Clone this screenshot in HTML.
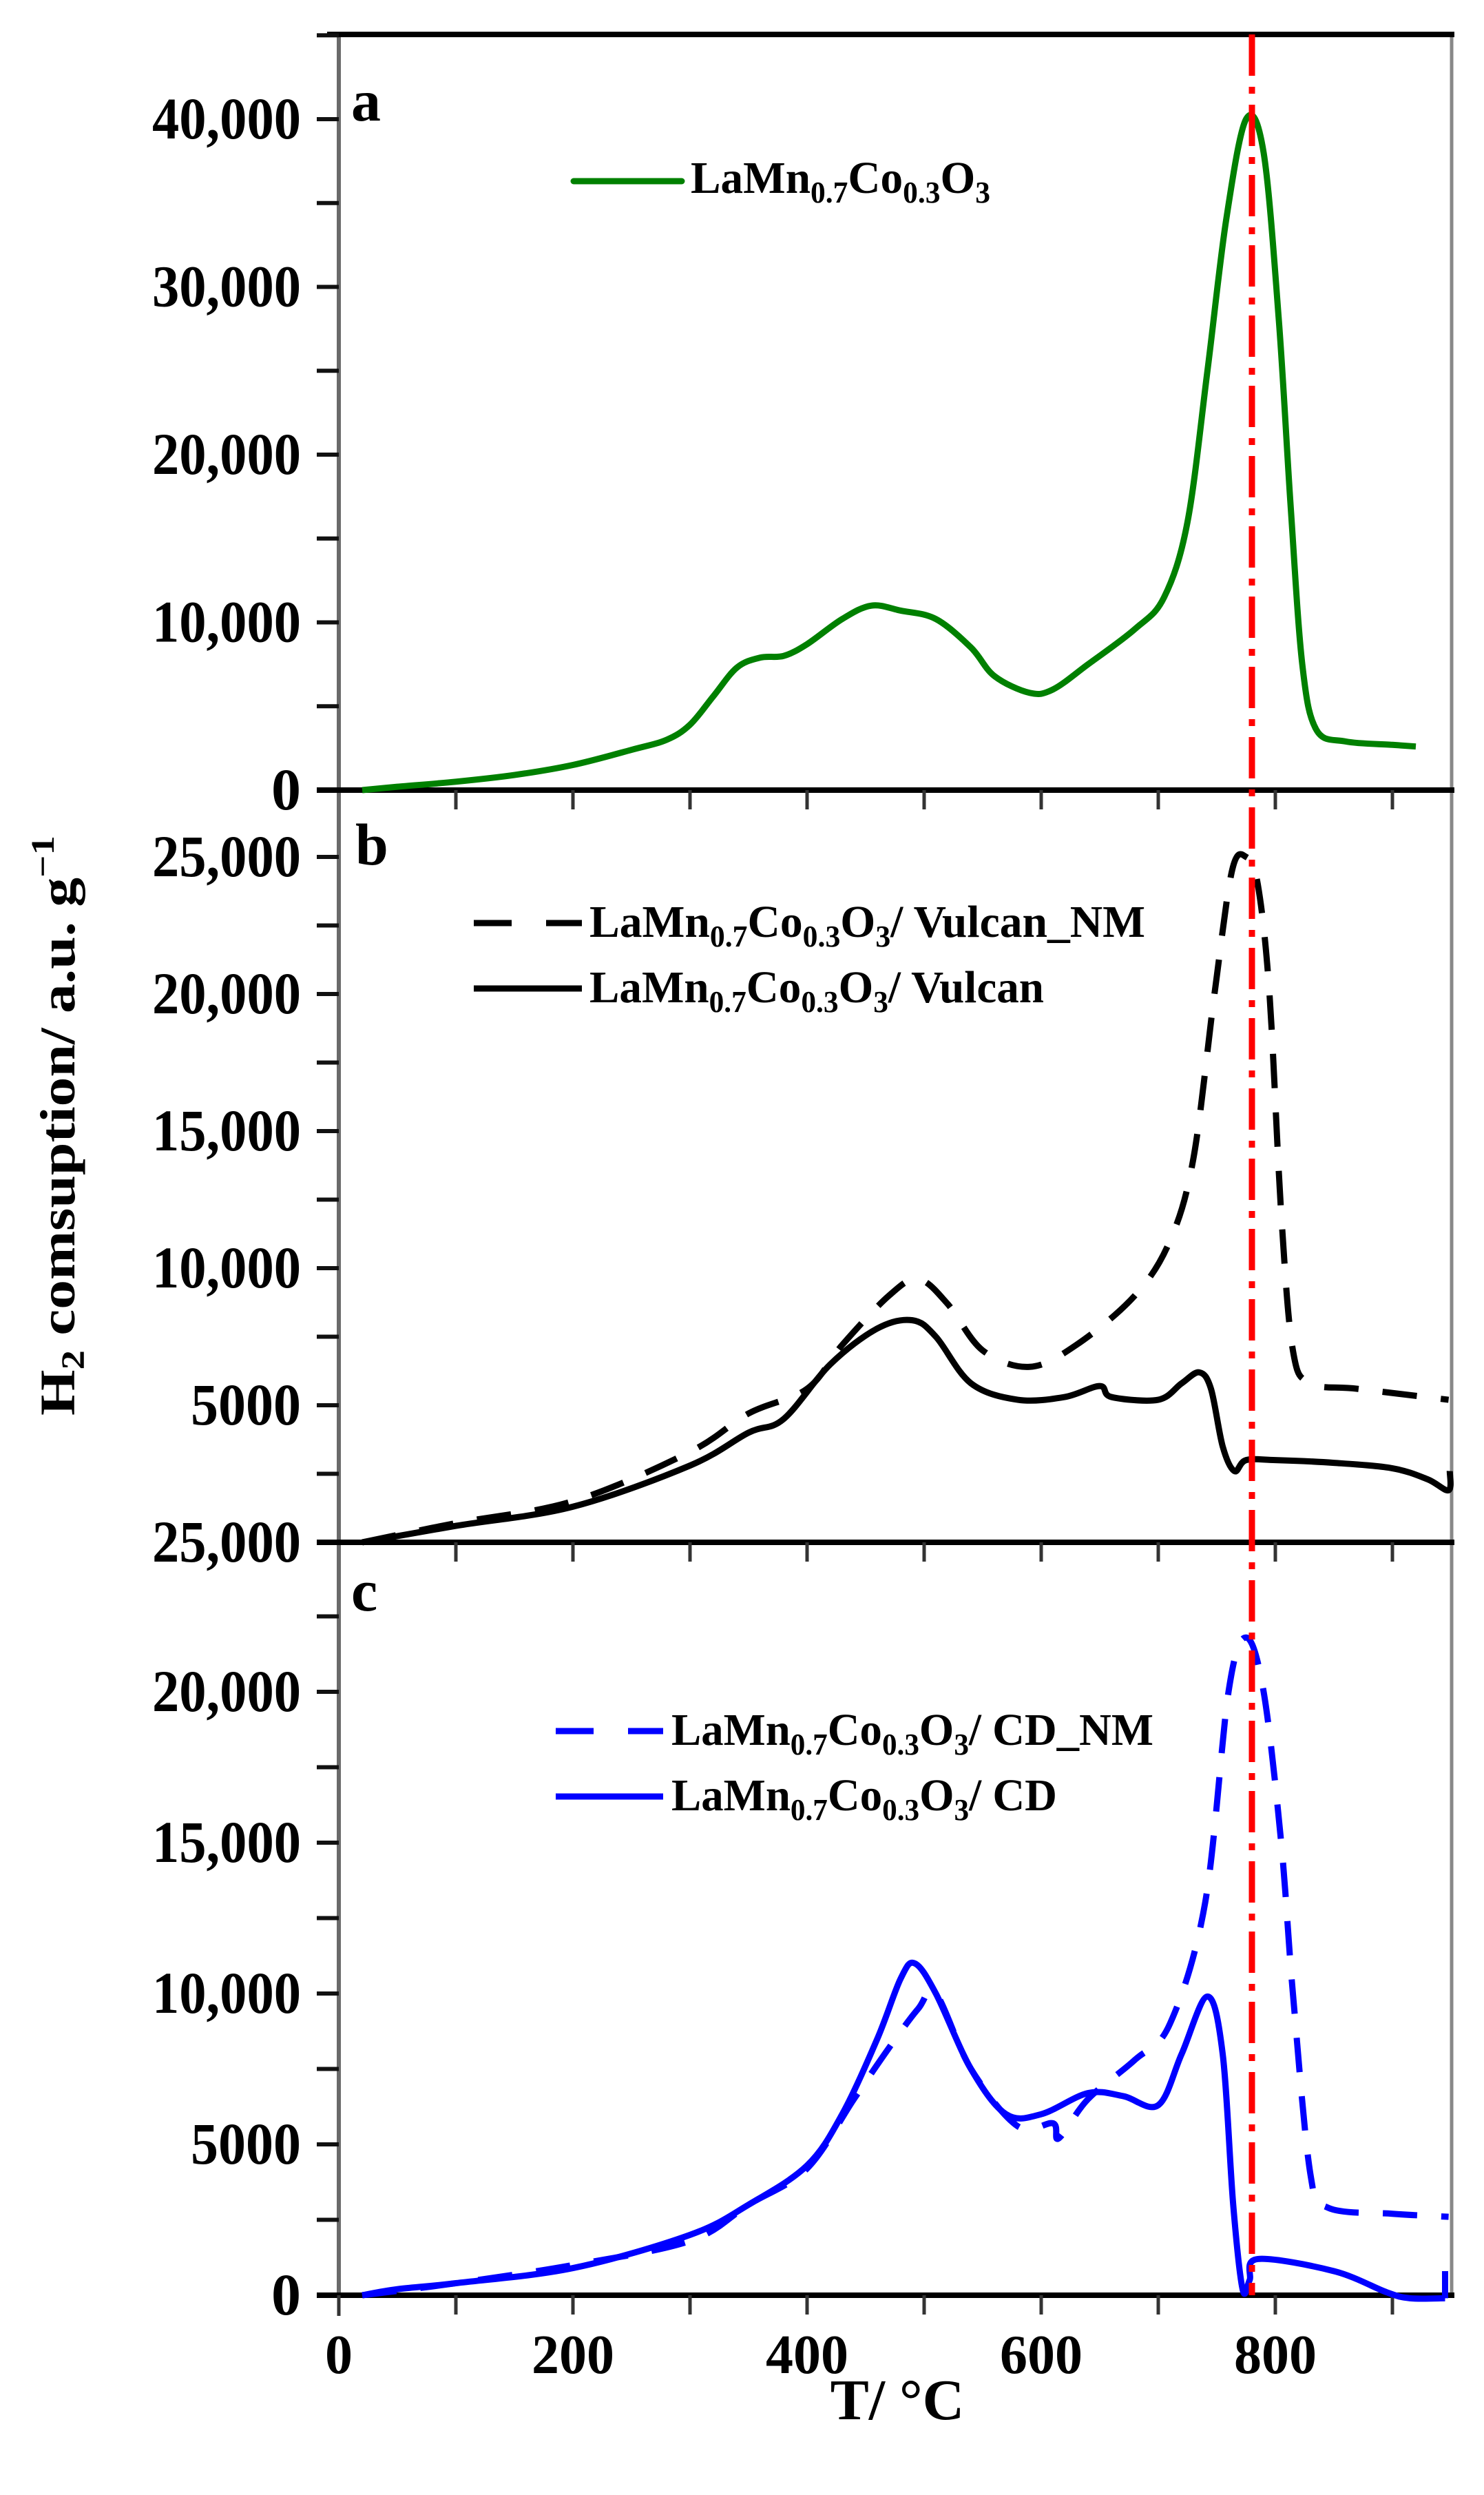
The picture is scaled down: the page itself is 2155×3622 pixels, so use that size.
<!DOCTYPE html>
<html><head><meta charset="utf-8"><style>
html,body{margin:0;padding:0;background:#fff;}
svg{display:block;}
text{font-family:"Liberation Serif",serif;font-weight:bold;fill:#000;}
</style></head><body>
<svg id="s" width="2155" height="3622" viewBox="0 0 2155 3622" xmlns="http://www.w3.org/2000/svg">
<g id="axes"></g>
<g id="series"></g>
<line x1="1818" y1="50" x2="1818" y2="3332" stroke="#ff0000" stroke-width="9" stroke-dasharray="60 16 10 16"/>
<!-- panel letters -->
<text x="510" y="175" font-size="86">a</text>
<text x="516" y="1255" font-size="86">b</text>
<text x="510" y="2338" font-size="86">c</text>
<!-- legends -->
<line x1="833" y1="263" x2="990" y2="263" stroke="#008000" stroke-width="9" stroke-linecap="round"/>
<text x="1003" y="280" font-size="66" textLength="435" lengthAdjust="spacingAndGlyphs">LaMn<tspan font-size="44" dy="14">0.7</tspan><tspan dy="-14">Co</tspan><tspan font-size="44" dy="14">0.3</tspan><tspan dy="-14">O</tspan><tspan font-size="44" dy="14">3</tspan></text>

<line x1="688" y1="1340" x2="845" y2="1340" stroke="#000" stroke-width="9" stroke-dasharray="55 50"/>
<text x="856" y="1360" font-size="66" textLength="807" lengthAdjust="spacingAndGlyphs">LaMn<tspan font-size="44" dy="14">0.7</tspan><tspan dy="-14">Co</tspan><tspan font-size="44" dy="14">0.3</tspan><tspan dy="-14">O</tspan><tspan font-size="44" dy="14">3</tspan><tspan dy="-14">/ Vulcan_NM</tspan></text>
<line x1="688" y1="1435" x2="845" y2="1435" stroke="#000" stroke-width="9"/>
<text x="856" y="1455" font-size="66" textLength="660" lengthAdjust="spacingAndGlyphs">LaMn<tspan font-size="44" dy="14">0.7</tspan><tspan dy="-14">Co</tspan><tspan font-size="44" dy="14">0.3</tspan><tspan dy="-14">O</tspan><tspan font-size="44" dy="14">3</tspan><tspan dy="-14">/ Vulcan</tspan></text>

<line x1="807" y1="2513" x2="963" y2="2513" stroke="#0000ff" stroke-width="9" stroke-dasharray="55 50"/>
<text x="975" y="2533" font-size="66" textLength="700" lengthAdjust="spacingAndGlyphs">LaMn<tspan font-size="44" dy="14">0.7</tspan><tspan dy="-14">Co</tspan><tspan font-size="44" dy="14">0.3</tspan><tspan dy="-14">O</tspan><tspan font-size="44" dy="14">3</tspan><tspan dy="-14">/ CD_NM</tspan></text>
<line x1="807" y1="2608" x2="963" y2="2608" stroke="#0000ff" stroke-width="9"/>
<text x="975" y="2628" font-size="66" textLength="560" lengthAdjust="spacingAndGlyphs">LaMn<tspan font-size="44" dy="14">0.7</tspan><tspan dy="-14">Co</tspan><tspan font-size="44" dy="14">0.3</tspan><tspan dy="-14">O</tspan><tspan font-size="44" dy="14">3</tspan><tspan dy="-14">/ CD</tspan></text>

<!-- axis titles -->
<text x="1303" y="3512" font-size="84" text-anchor="middle">T/ °C</text>
<text transform="translate(108,1634) rotate(-90)" font-size="72" text-anchor="middle" textLength="842" lengthAdjust="spacingAndGlyphs">H<tspan font-size="48" dy="14">2</tspan><tspan dy="-14"> comsuption/ a.u. g</tspan><tspan font-size="48" dy="-30">−1</tspan></text>
</svg>
<script>
(function(){
var NS="http://www.w3.org/2000/svg";
var axes=document.getElementById('axes'), ser=document.getElementById('series');
function el(p,t,a){var e=document.createElementNS(NS,t);for(var k in a)e.setAttribute(k,a[k]);p.appendChild(e);return e;}
function X(T){return 492+1.70*T;}
var P={a:{y0:1147,k:0.02435},b:{y0:2239,k:0.0398},c:{y0:3332,k:0.0438}};
function Y(p,v){return P[p].y0-v*P[p].k;}
// frame
el(axes,'line',{x1:492,y1:50,x2:492,y2:3332,stroke:'#6a6a6a','stroke-width':6});
el(axes,'line',{x1:2108,y1:50,x2:2108,y2:3332,stroke:'#888','stroke-width':5});
el(axes,'line',{x1:475,y1:50,x2:2112,y2:50,stroke:'#000','stroke-width':8});
[1147,2239,3332].forEach(function(y){el(axes,'line',{x1:460,y1:y,x2:2112,y2:y,stroke:'#000','stroke-width':8});
 for(var T=100;T<=900;T+=100){el(axes,'line',{x1:X(T),y1:y,x2:X(T),y2:y+28,stroke:'#333','stroke-width':5});}
});
el(axes,'line',{x1:492,y1:3332,x2:492,y2:3362,stroke:'#333','stroke-width':5});
function ytick(y){el(axes,'line',{x1:460,y1:y,x2:492,y2:y,stroke:'#111','stroke-width':6});}
function ylab(y,s){var w={1:0,4:160,6:216}[s.length];var a={x:437,y:y+28,'font-size':86,'text-anchor':'end'};if(w){a.textLength=w;a.lengthAdjust='spacingAndGlyphs';}var t=el(axes,'text',a);t.textContent=s;}
for(var v=5000;v<=45000;v+=5000)ytick(Y('a',v));
['0','10,000','20,000','30,000','40,000'].forEach(function(s,i){ylab(Y('a',i*10000),s);});
for(var v=2500;v<=27500;v+=2500)if(Y('b',v)>1150)ytick(Y('b',v));
ylab(Y('b',5000),'5000');['10,000','15,000','20,000','25,000'].forEach(function(s,i){ylab(Y('b',(i+2)*5000),s);});
ylab(2239,'25,000');
for(var v=2500;v<=22500;v+=2500)ytick(Y('c',v));
['0','5000','10,000','15,000','20,000'].forEach(function(s,i){ylab(Y('c',i*5000),s);});
[0,200,400,600,800].forEach(function(T){var t=el(axes,'text',{x:X(T),y:3445,'font-size':80,'text-anchor':'middle'});t.textContent=String(T);});
function path(p,d,col,dash){
 var pts=d.map(function(q){return [X(q[0]),Y(p,q[1])];});
 var s='M'+pts[0][0]+','+pts[0][1];
 for(var i=0;i<pts.length-1;i++){var p0=pts[Math.max(0,i-1)],p1=pts[i],p2=pts[i+1],p3=pts[Math.min(pts.length-1,i+2)];
  var c1=[p1[0]+(p2[0]-p0[0])/6,p1[1]+(p2[1]-p0[1])/6],c2=[p2[0]-(p3[0]-p1[0])/6,p2[1]-(p3[1]-p1[1])/6];
  s+=' C'+c1+' '+c2+' '+p2;}
 var a={d:s,fill:'none',stroke:col,'stroke-width':9,'stroke-linejoin':'round'};if(dash)a['stroke-dasharray']=dash;
 el(ser,'path',a);
}
path('a',[[20,0],[50,200],[100,500],[150,900],[200,1500],[250,2400],[280,3000],[300,3900],[320,5600],[340,7300],[360,7900],[380,8000],[400,8700],[430,10200],[455,11000],[480,10700],[510,10200],[540,8500],[560,6800],[590,5800],[610,6000],[640,7500],[680,9600],[705,11500],[725,16000],[742,25000],[758,34000],[775,40000],[790,38000],[803,28000],[813,17000],[823,7500],[835,3600],[860,2900],[900,2700],[920,2600]],'#008000');
path('b',[[20,0],[100,600],[200,1300],[300,2800],[350,4000],[380,4500],[420,6500],[460,7800],[490,8100],[510,7500],[540,5800],[580,5200],[620,5300],[650,5700],[660,5300],[700,5200],[720,5800],[735,6200],[745,5600],[755,3500],[765,2600],[775,3000],[800,3000],[850,2900],[900,2700],[930,2300],[948,1900],[949,2600]],'#000');
path('b',[[20,0],[100,700],[200,1500],[300,3300],[350,4700],[400,5600],[430,7200],[470,9000],[495,9600],[520,8700],[550,7000],[590,6400],[630,7200],[680,9000],[710,11000],[730,14000],[748,20000],[763,24500],[775,25000],[785,24000],[795,20000],[805,12000],[815,7000],[830,5800],[870,5600],[948,5200]],'#000','50 35');
path('c',[[20,0],[50,200],[100,400],[200,900],[300,2000],[350,3000],[400,4300],[430,6000],[460,8500],[480,10500],[492,11000],[510,10000],[540,7500],[570,6000],[600,6000],[640,6700],[670,6600],[700,6300],[720,8000],[742,9900],[755,8000],[764,3000],[772,200],[778,500],[785,1200],[850,800],[895,100],[915,-100],[945,-100]],'#0000ff');
el(ser,'line',{x1:X(945),y1:Y('c',-100),x2:X(945),y2:Y('c',800),stroke:'#0000ff','stroke-width':9});
path('c',[[20,0],[100,400],[200,1000],[300,1800],[350,3000],[400,4200],[440,6500],[470,8200],[495,9500],[510,10000],[540,7500],[580,5600],[610,5700],[615,5200],[640,6500],[680,7800],[710,9000],[740,13000],[760,20000],[775,21800],[790,20000],[805,15000],[815,10000],[830,4000],[845,2900],[900,2700],[948,2600]],'#0000ff','50 35');
})();
</script>
</body></html>
